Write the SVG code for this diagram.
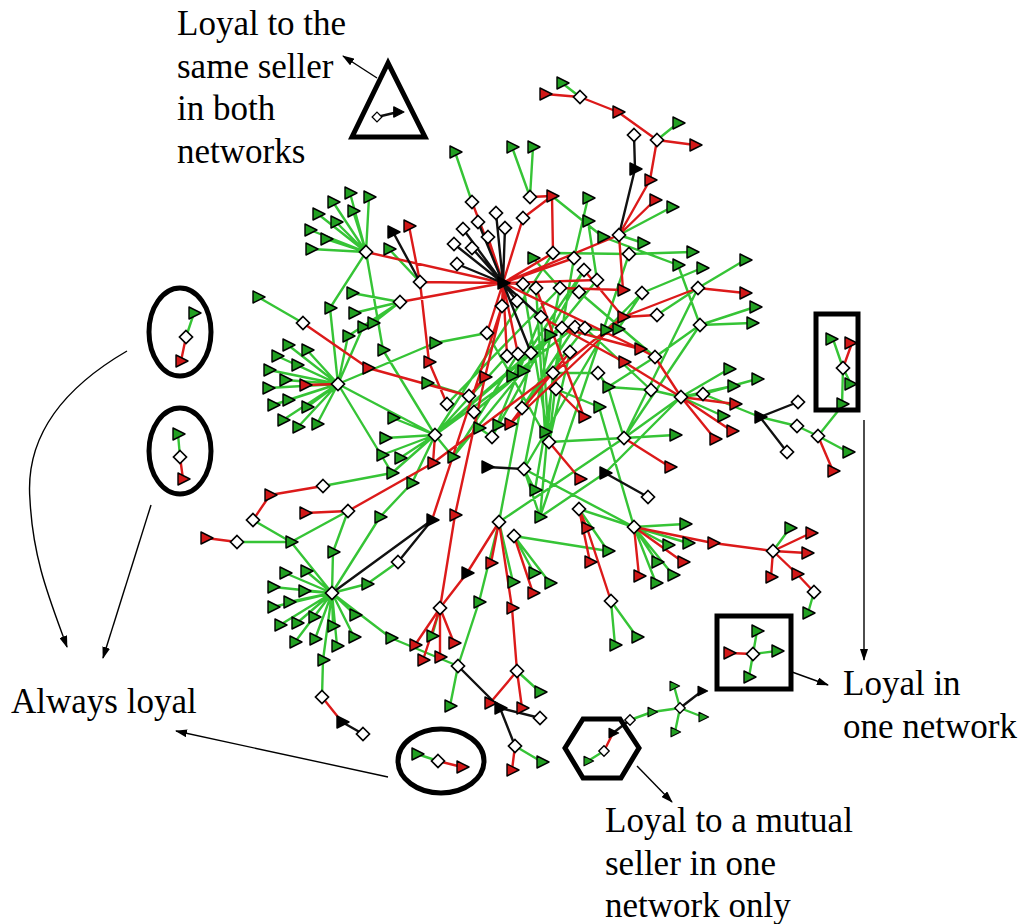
<svg xmlns="http://www.w3.org/2000/svg" xmlns:xlink="http://www.w3.org/1999/xlink" width="1030" height="924" viewBox="0 0 1030 924">
<style>
.eg{fill:none;stroke:#36c436;stroke-width:2.4;stroke-linecap:round}
.er{fill:none;stroke:#dc1a1a;stroke-width:2.4;stroke-linecap:round}
.ek{fill:none;stroke:#111;stroke-width:2.4;stroke-linecap:round}
.t{font-size:35px;fill:#000}
.sh{fill:none;stroke:#000;stroke-width:5}
.an{fill:none;stroke:#000;stroke-width:1.4;marker-end:url(#ah)}
</style>
<defs>
<path id="G" d="M-5,-6L7,0L-5,6Z" fill="#22a022" stroke="#000" stroke-width="1.4" stroke-linejoin="round"/>
<path id="R" d="M-5,-6L7,0L-5,6Z" fill="#d21818" stroke="#000" stroke-width="1.4" stroke-linejoin="round"/>
<path id="K" d="M-5,-6L7,0L-5,6Z" fill="#000" stroke="#000" stroke-width="1.4" stroke-linejoin="round"/>
<path id="D" d="M0,-6.5L6.5,0L0,6.5L-6.5,0Z" fill="#fff" stroke="#000" stroke-width="1.7"/>
<marker id="ah" viewBox="0 0 12 8" refX="11" refY="4" markerWidth="12" markerHeight="8" markerUnits="userSpaceOnUse" orient="auto"><path d="M0,0L12,4L0,8Z" fill="#000"/></marker>
</defs>
<rect width="1030" height="924" fill="#fff"/>
<g id="connectors">
<path class="eg" d="M562,83L580,97M657,140L678,123M619,235L672,207M455,152L472,202M512,147L530,197M533,147L530,197M552,196L603,237M603,237L678,265M588,198L574,258M588,221L597,280M619,235L643,243M629,254L692,252M642,293L702,268M745,260L698,288M678,265L700,325M700,325L755,307M700,325L752,323M700,325L655,357M655,357L608,387M657,315L698,288M642,293L606,330M642,293L618,329M533,258L560,288M553,253L629,254M574,258L535,490M584,270L512,376M597,280L523,371M523,284L549,442M536,288L545,432M560,288L524,469M579,292L655,357M562,328L606,330M585,328L651,390M570,352L549,442M531,353L499,522M518,354L453,457M507,356L435,435M435,435L550,335M435,435L562,328M435,435L523,371M553,373L598,373M556,389L599,407M598,373L608,387M651,390L608,387M651,390L681,397M624,438L681,397M624,438L675,435M605,473L681,397M624,438L499,522M549,442L545,432M549,442L541,317M549,442L562,328M492,437L479,428M492,437L498,425M474,412L478,428M469,396L427,383M522,408L575,327M522,408L585,328M524,469L535,490M524,469L540,517M540,517L553,373M514,536L608,551M579,509L608,551M579,509L634,527M634,527L524,469M634,527L685,524M634,527L688,543M634,527L668,545M634,527L657,562M634,527L656,583M634,527L673,575M611,601L615,645M611,601L637,637M634,527L599,407M624,438L700,325M608,387L624,438M549,442L624,438M605,473L540,517M474,412L523,371M492,437L541,317M487,333L549,442M553,253L435,435M597,280L453,457M629,254L540,517M584,270L492,437M698,288L624,438M606,330L524,469M575,327L512,376M560,288L447,404
M366,252L350,193M366,252L369,197M366,252L333,202M366,252L353,211M366,252L318,214M366,252L336,222M366,252L310,230M366,252L326,239M366,252L311,249M366,252L330,308M366,252L383,350M389,249L420,282M400,302L352,293M400,302L354,313M400,302L363,327M400,302L373,323M400,302L348,336M258,297L303,323M330,308L338,384M348,336L338,384M363,327L338,384M435,343L338,384M435,343L487,333M383,350L435,435M427,383L469,396
M338,384L288,345M338,384L307,350M338,384L277,356M338,384L297,365M338,384L269,370M338,384L285,380M338,384L268,388M338,384L288,400M338,384L273,405M338,384L307,407M338,384L283,420M338,384L298,427M338,384L317,424M338,384L392,473M338,384L435,435
M435,435L393,418M435,435L385,438M435,435L382,455M435,435L400,458M435,435L453,457M323,486L392,473M392,473L435,435M412,483L380,517M380,517L332,593M412,483L435,435M237,542L291,542M253,520L291,542M348,511L291,542M348,511L333,552M291,542L332,593M333,552L332,593M398,562L367,584M367,584L332,593
M332,593L285,573M332,593L306,571M332,593L273,587M332,593L304,591M332,593L273,607M332,593L289,602M332,593L280,625M332,593L297,623M332,593L314,617M332,593L295,642M332,593L315,639M332,593L333,626M332,593L355,615M332,593L354,637M332,593L337,646M332,593L323,660M332,593L391,638M391,638L458,666M323,660L322,697M440,608L432,636M458,666L450,706M458,666L479,602M479,602L499,522M499,522L513,582M517,671L540,692M515,746L542,762M514,536L534,573M514,536L550,583
M703,394L681,397M681,397L729,369M681,397L733,386M703,394L757,379M681,397L723,416M703,394L760,417M760,417L797,426M797,426L818,436M818,436L842,406M818,436L848,452M773,551L790,528M814,592L808,613
M588,761L604,751M630,720L652,712M652,712L680,708M680,708L674,686M680,708L703,717M680,708L675,732M753,654L757,631M753,654L777,651M753,654L749,677M833,339L843,368M843,368L851,384M843,368L842,406M194,313L186,337M178,434L180,457M417,754L438,761"/>
<path class="er" d="M545,94L580,97M580,97L618,112M618,112L657,140M657,140L695,145M657,140L650,180M650,180L619,235M655,200L619,235M472,202L503,283M488,237L503,283M523,218L503,283M530,197L552,196M523,218L552,196M552,196L553,253M503,283L619,235M619,235L623,290M698,288L745,293M698,288L623,317M623,317L657,315M623,317L584,270M623,290L560,288M503,283L597,280M503,283L553,253M503,283L574,258M503,283L366,252M503,283L420,282M503,283L400,302M409,226L420,282M503,283L502,306M503,283L487,333M503,283L507,356M503,283L518,354M503,283L640,349M503,283L523,284M541,317L624,362M624,362L681,397M655,357L681,397M640,349L655,357M502,306L485,377M485,377L469,396M485,377L455,515M420,282L429,362M429,362L447,404M303,323L368,368M368,368L469,396M502,306L432,520M348,511L433,463M433,463L553,373M455,515L440,608M440,608L467,573M467,573L499,522M499,522L491,563M499,522L512,608M512,608L517,671M517,671L490,703M517,671L522,708M515,746L512,770M440,608L415,645M440,608L423,660M440,608L440,657M440,608L454,643M322,697L342,722M348,511L305,513M270,495L253,520M270,495L323,486M206,538L237,542M435,435L433,463M338,384L305,385M562,328L640,349M570,352L510,424M556,389L584,417M553,373L623,317M624,438L670,467M549,442L580,479M579,509L587,528M587,528L611,601M579,509L590,562M681,397L735,404M681,397L732,431M681,397L715,439M818,436L833,471M634,527L713,543M634,527L683,562M634,527L639,576M713,543L773,551M773,551L811,533M773,551L807,553M773,551L771,577M773,551L797,574M797,574L814,592M514,536L533,593M623,317L510,424M536,288L584,417M522,408L510,424
M604,751L613,733M729,653L753,654M852,343L843,368M186,337L181,361M180,457L183,479M438,761L462,767"/>
<path class="ek" d="M634,135L635,169M635,169L619,235M503,283L496,213M503,283L478,222M503,283L505,228M503,283L463,229M503,283L454,244M503,283L472,248M503,283L457,264M503,283L517,301M503,283L541,317M503,283L531,353M393,232L420,282M332,593L432,520M398,562L432,520M487,467L524,469M605,473L648,497M458,666L500,708M500,708L540,718M500,708L515,746M342,722L363,734M760,417L798,402M760,417L787,452M613,733L630,720M680,708L702,691M377,117L398,112"/>
</g>
<g id="nodes">
<g id="n1"><use href="#G" x="562" y="83"/></g>
<g id="n2"><use href="#R" x="545" y="94"/></g>
<g id="n3"><use href="#D" x="580" y="97"/></g>
<g id="n4"><use href="#R" x="618" y="112"/></g>
<g id="n5"><use href="#G" x="678" y="123"/></g>
<g id="n6"><use href="#D" x="657" y="140"/></g>
<g id="n7"><use href="#R" x="695" y="145"/></g>
<g id="n8"><use href="#D" x="634" y="135"/></g>
<g id="n9"><use href="#K" x="635" y="169"/></g>
<g id="n10"><use href="#R" x="650" y="180"/></g>
<g id="n11"><use href="#R" x="655" y="200"/></g>
<g id="n12"><use href="#G" x="672" y="207"/></g>
<g id="n13"><use href="#D" x="619" y="235"/></g>
<g id="n14"><use href="#G" x="455" y="152"/></g>
<g id="n15"><use href="#D" x="472" y="202"/></g>
<g id="n16"><use href="#G" x="512" y="147"/></g>
<g id="n17"><use href="#G" x="533" y="147"/></g>
<g id="n18"><use href="#D" x="530" y="197"/></g>
<g id="n19"><use href="#R" x="552" y="196"/></g>
<g id="n20"><use href="#D" x="523" y="218"/></g>
<g id="n21"><use href="#G" x="588" y="198"/></g>
<g id="n22"><use href="#G" x="588" y="221"/></g>
<g id="n23"><use href="#G" x="603" y="237"/></g>
<g id="n24"><use href="#G" x="643" y="243"/></g>
<g id="n25"><use href="#D" x="629" y="254"/></g>
<g id="n26"><use href="#G" x="692" y="252"/></g>
<g id="n27"><use href="#G" x="678" y="265"/></g>
<g id="n28"><use href="#G" x="702" y="268"/></g>
<g id="n29"><use href="#G" x="745" y="260"/></g>
<g id="n30"><use href="#D" x="698" y="288"/></g>
<g id="n31"><use href="#R" x="745" y="293"/></g>
<g id="n32"><use href="#G" x="755" y="307"/></g>
<g id="n33"><use href="#G" x="752" y="323"/></g>
<g id="n34"><use href="#D" x="700" y="325"/></g>
<g id="n35"><use href="#D" x="642" y="293"/></g>
<g id="n36"><use href="#R" x="623" y="290"/></g>
<g id="n37"><use href="#R" x="623" y="317"/></g>
<g id="n38"><use href="#D" x="657" y="315"/></g>
<g id="n39"><use href="#D" x="496" y="213"/></g>
<g id="n40"><use href="#D" x="478" y="222"/></g>
<g id="n41"><use href="#D" x="505" y="228"/></g>
<g id="n42"><use href="#D" x="463" y="229"/></g>
<g id="n43"><use href="#D" x="488" y="237"/></g>
<g id="n44"><use href="#D" x="454" y="244"/></g>
<g id="n45"><use href="#D" x="472" y="248"/></g>
<g id="n46"><use href="#D" x="457" y="264"/></g>
<g id="n47"><use href="#G" x="533" y="258"/></g>
<g id="n48"><use href="#D" x="553" y="253"/></g>
<g id="n49"><use href="#D" x="574" y="258"/></g>
<g id="n50"><use href="#D" x="584" y="270"/></g>
<g id="n51"><use href="#D" x="597" y="280"/></g>
<g id="n52"><use href="#D" x="523" y="284"/></g>
<g id="n53"><use href="#D" x="536" y="288"/></g>
<g id="n54"><use href="#D" x="560" y="288"/></g>
<g id="n55"><use href="#D" x="579" y="292"/></g>
<g id="n56"><use href="#D" x="517" y="301"/></g>
<g id="n57"><use href="#D" x="502" y="306"/></g>
<g id="n58"><use href="#D" x="541" y="317"/></g>
<g id="n59"><use href="#D" x="562" y="328"/></g>
<g id="n60"><use href="#D" x="575" y="327"/></g>
<g id="n61"><use href="#D" x="585" y="328"/></g>
<g id="n62"><use href="#G" x="550" y="335"/></g>
<g id="n63"><use href="#G" x="606" y="330"/></g>
<g id="n64"><use href="#G" x="618" y="329"/></g>
<g id="n65"><use href="#D" x="487" y="333"/></g>
<g id="n66"><use href="#G" x="435" y="343"/></g>
<g id="n67"><use href="#D" x="507" y="356"/></g>
<g id="n68"><use href="#D" x="518" y="354"/></g>
<g id="n69"><use href="#D" x="531" y="353"/></g>
<g id="n70"><use href="#D" x="570" y="352"/></g>
<g id="n71"><use href="#R" x="640" y="349"/></g>
<g id="n72"><use href="#D" x="655" y="357"/></g>
<g id="n73"><use href="#R" x="485" y="377"/></g>
<g id="n74"><use href="#G" x="512" y="376"/></g>
<g id="n75"><use href="#G" x="523" y="371"/></g>
<g id="n76"><use href="#D" x="553" y="373"/></g>
<g id="n77"><use href="#D" x="598" y="373"/></g>
<g id="n78"><use href="#R" x="624" y="362"/></g>
<g id="n79"><use href="#G" x="608" y="387"/></g>
<g id="n80"><use href="#D" x="556" y="389"/></g>
<g id="n81"><use href="#D" x="651" y="390"/></g>
<g id="n82"><use href="#D" x="469" y="396"/></g>
<g id="n83"><use href="#D" x="447" y="404"/></g>
<g id="n84"><use href="#D" x="474" y="412"/></g>
<g id="n85"><use href="#D" x="522" y="408"/></g>
<g id="n86"><use href="#G" x="599" y="407"/></g>
<g id="n87"><use href="#R" x="584" y="417"/></g>
<g id="n88"><use href="#G" x="479" y="428"/></g>
<g id="n89"><use href="#G" x="498" y="425"/></g>
<g id="n90"><use href="#R" x="510" y="424"/></g>
<g id="n91"><use href="#D" x="492" y="437"/></g>
<g id="n92"><use href="#G" x="545" y="432"/></g>
<g id="n93"><use href="#D" x="549" y="442"/></g>
<g id="n94"><use href="#D" x="624" y="438"/></g>
<g id="n95"><use href="#G" x="675" y="435"/></g>
<g id="n96"><use href="#G" x="453" y="457"/></g>
<g id="n97"><use href="#K" x="487" y="467"/></g>
<g id="n98"><use href="#D" x="524" y="469"/></g>
<g id="n99"><use href="#R" x="670" y="467"/></g>
<g id="n100"><use href="#K" x="605" y="473"/></g>
<g id="n101"><use href="#D" x="648" y="497"/></g>
<g id="n102"><use href="#R" x="580" y="479"/></g>
<g id="n103"><use href="#G" x="535" y="490"/></g>
<g id="n104"><use href="#G" x="540" y="517"/></g>
<g id="n105"><use href="#R" x="455" y="515"/></g>
<g id="n106"><use href="#D" x="579" y="509"/></g>
<g id="n107"><use href="#R" x="587" y="528"/></g>
<g id="n108"><use href="#D" x="499" y="522"/></g>
<g id="n109"><use href="#D" x="514" y="536"/></g>
<g id="n110"><use href="#G" x="608" y="551"/></g>
<g id="n111"><use href="#R" x="590" y="562"/></g>
<g id="n112"><use href="#R" x="491" y="563"/></g>
<g id="n113"><use href="#K" x="467" y="573"/></g>
<g id="n114"><use href="#G" x="534" y="573"/></g>
<g id="n115"><use href="#G" x="550" y="583"/></g>
<g id="n116"><use href="#R" x="533" y="593"/></g>
<g id="n117"><use href="#D" x="611" y="601"/></g>
<g id="n118"><use href="#G" x="615" y="645"/></g>
<g id="n119"><use href="#G" x="637" y="637"/></g>
<g id="n120"><use href="#K" x="503" y="283"/></g>
<g id="n121"><use href="#D" x="681" y="397"/></g>
<g id="n122"><use href="#D" x="703" y="394"/></g>
<g id="n123"><use href="#G" x="729" y="369"/></g>
<g id="n124"><use href="#G" x="733" y="386"/></g>
<g id="n125"><use href="#G" x="757" y="379"/></g>
<g id="n126"><use href="#R" x="735" y="404"/></g>
<g id="n127"><use href="#G" x="723" y="416"/></g>
<g id="n128"><use href="#R" x="732" y="431"/></g>
<g id="n129"><use href="#R" x="715" y="439"/></g>
<g id="n130"><use href="#K" x="760" y="417"/></g>
<g id="n131"><use href="#D" x="798" y="402"/></g>
<g id="n132"><use href="#D" x="797" y="426"/></g>
<g id="n133"><use href="#D" x="787" y="452"/></g>
<g id="n134"><use href="#D" x="818" y="436"/></g>
<g id="n135"><use href="#G" x="848" y="452"/></g>
<g id="n136"><use href="#R" x="833" y="471"/></g>
<g id="n137"><use href="#D" x="634" y="527"/></g>
<g id="n138"><use href="#G" x="685" y="524"/></g>
<g id="n139"><use href="#G" x="688" y="543"/></g>
<g id="n140"><use href="#G" x="668" y="545"/></g>
<g id="n141"><use href="#G" x="657" y="562"/></g>
<g id="n142"><use href="#G" x="656" y="583"/></g>
<g id="n143"><use href="#G" x="673" y="575"/></g>
<g id="n144"><use href="#R" x="713" y="543"/></g>
<g id="n145"><use href="#R" x="683" y="562"/></g>
<g id="n146"><use href="#R" x="639" y="576"/></g>
<g id="n147"><use href="#D" x="773" y="551"/></g>
<g id="n148"><use href="#G" x="790" y="528"/></g>
<g id="n149"><use href="#R" x="811" y="533"/></g>
<g id="n150"><use href="#R" x="807" y="553"/></g>
<g id="n151"><use href="#R" x="771" y="577"/></g>
<g id="n152"><use href="#R" x="797" y="574"/></g>
<g id="n153"><use href="#D" x="814" y="592"/></g>
<g id="n154"><use href="#G" x="808" y="613"/></g>
<g id="n155"><use href="#G" x="350" y="193"/></g>
<g id="n156"><use href="#G" x="369" y="197"/></g>
<g id="n157"><use href="#G" x="333" y="202"/></g>
<g id="n158"><use href="#G" x="353" y="211"/></g>
<g id="n159"><use href="#G" x="318" y="214"/></g>
<g id="n160"><use href="#G" x="336" y="222"/></g>
<g id="n161"><use href="#G" x="310" y="230"/></g>
<g id="n162"><use href="#G" x="326" y="239"/></g>
<g id="n163"><use href="#G" x="311" y="249"/></g>
<g id="n164"><use href="#D" x="366" y="252"/></g>
<g id="n165"><use href="#K" x="393" y="232"/></g>
<g id="n166"><use href="#R" x="409" y="226"/></g>
<g id="n167"><use href="#G" x="389" y="249"/></g>
<g id="n168"><use href="#D" x="420" y="282"/></g>
<g id="n169"><use href="#D" x="400" y="302"/></g>
<g id="n170"><use href="#G" x="352" y="293"/></g>
<g id="n171"><use href="#G" x="354" y="313"/></g>
<g id="n172"><use href="#G" x="363" y="327"/></g>
<g id="n173"><use href="#G" x="373" y="323"/></g>
<g id="n174"><use href="#G" x="348" y="336"/></g>
<g id="n175"><use href="#G" x="330" y="308"/></g>
<g id="n176"><use href="#G" x="258" y="297"/></g>
<g id="n177"><use href="#D" x="303" y="323"/></g>
<g id="n178"><use href="#G" x="383" y="350"/></g>
<g id="n179"><use href="#R" x="368" y="368"/></g>
<g id="n180"><use href="#R" x="429" y="362"/></g>
<g id="n181"><use href="#G" x="427" y="383"/></g>
<g id="n182"><use href="#D" x="338" y="384"/></g>
<g id="n183"><use href="#R" x="305" y="385"/></g>
<g id="n184"><use href="#G" x="288" y="345"/></g>
<g id="n185"><use href="#G" x="307" y="350"/></g>
<g id="n186"><use href="#G" x="277" y="356"/></g>
<g id="n187"><use href="#G" x="297" y="365"/></g>
<g id="n188"><use href="#G" x="269" y="370"/></g>
<g id="n189"><use href="#G" x="285" y="380"/></g>
<g id="n190"><use href="#G" x="268" y="388"/></g>
<g id="n191"><use href="#G" x="288" y="400"/></g>
<g id="n192"><use href="#G" x="273" y="405"/></g>
<g id="n193"><use href="#G" x="307" y="407"/></g>
<g id="n194"><use href="#G" x="283" y="420"/></g>
<g id="n195"><use href="#G" x="298" y="427"/></g>
<g id="n196"><use href="#G" x="317" y="424"/></g>
<g id="n197"><use href="#D" x="435" y="435"/></g>
<g id="n198"><use href="#G" x="393" y="418"/></g>
<g id="n199"><use href="#G" x="385" y="438"/></g>
<g id="n200"><use href="#G" x="382" y="455"/></g>
<g id="n201"><use href="#G" x="400" y="458"/></g>
<g id="n202"><use href="#G" x="392" y="473"/></g>
<g id="n203"><use href="#G" x="412" y="483"/></g>
<g id="n204"><use href="#R" x="433" y="463"/></g>
<g id="n205"><use href="#D" x="323" y="486"/></g>
<g id="n206"><use href="#R" x="270" y="495"/></g>
<g id="n207"><use href="#D" x="253" y="520"/></g>
<g id="n208"><use href="#R" x="305" y="513"/></g>
<g id="n209"><use href="#D" x="348" y="511"/></g>
<g id="n210"><use href="#G" x="380" y="517"/></g>
<g id="n211"><use href="#K" x="432" y="520"/></g>
<g id="n212"><use href="#G" x="291" y="542"/></g>
<g id="n213"><use href="#G" x="333" y="552"/></g>
<g id="n214"><use href="#R" x="206" y="538"/></g>
<g id="n215"><use href="#D" x="237" y="542"/></g>
<g id="n216"><use href="#D" x="398" y="562"/></g>
<g id="n217"><use href="#G" x="367" y="584"/></g>
<g id="n218"><use href="#D" x="332" y="593"/></g>
<g id="n219"><use href="#G" x="285" y="573"/></g>
<g id="n220"><use href="#G" x="306" y="571"/></g>
<g id="n221"><use href="#G" x="273" y="587"/></g>
<g id="n222"><use href="#G" x="304" y="591"/></g>
<g id="n223"><use href="#G" x="273" y="607"/></g>
<g id="n224"><use href="#G" x="289" y="602"/></g>
<g id="n225"><use href="#G" x="280" y="625"/></g>
<g id="n226"><use href="#G" x="297" y="623"/></g>
<g id="n227"><use href="#G" x="314" y="617"/></g>
<g id="n228"><use href="#G" x="295" y="642"/></g>
<g id="n229"><use href="#G" x="315" y="639"/></g>
<g id="n230"><use href="#G" x="333" y="626"/></g>
<g id="n231"><use href="#G" x="355" y="615"/></g>
<g id="n232"><use href="#G" x="354" y="637"/></g>
<g id="n233"><use href="#G" x="337" y="646"/></g>
<g id="n234"><use href="#G" x="323" y="660"/></g>
<g id="n235"><use href="#G" x="391" y="638"/></g>
<g id="n236"><use href="#D" x="440" y="608"/></g>
<g id="n237"><use href="#R" x="415" y="645"/></g>
<g id="n238"><use href="#R" x="423" y="660"/></g>
<g id="n239"><use href="#R" x="440" y="657"/></g>
<g id="n240"><use href="#R" x="454" y="643"/></g>
<g id="n241"><use href="#G" x="432" y="636"/></g>
<g id="n242"><use href="#D" x="458" y="666"/></g>
<g id="n243"><use href="#G" x="479" y="602"/></g>
<g id="n244"><use href="#G" x="513" y="582"/></g>
<g id="n245"><use href="#R" x="512" y="608"/></g>
<g id="n246"><use href="#D" x="517" y="671"/></g>
<g id="n247"><use href="#G" x="450" y="706"/></g>
<g id="n248"><use href="#G" x="540" y="692"/></g>
<g id="n249"><use href="#R" x="490" y="703"/></g>
<g id="n250"><use href="#K" x="500" y="708"/></g>
<g id="n251"><use href="#R" x="522" y="708"/></g>
<g id="n252"><use href="#D" x="540" y="718"/></g>
<g id="n253"><use href="#D" x="515" y="746"/></g>
<g id="n254"><use href="#G" x="542" y="762"/></g>
<g id="n255"><use href="#R" x="512" y="770"/></g>
<g id="n256"><use href="#D" x="322" y="697"/></g>
<g id="n257"><use href="#K" x="342" y="722"/></g>
<g id="n258"><use href="#D" x="363" y="734"/></g>
<g id="n259"><use href="#G" transform="translate(588,761) scale(0.8)"/></g>
<g id="n260"><use href="#D" transform="translate(604,751) scale(0.8)"/></g>
<g id="n261"><use href="#K" transform="translate(613,733) scale(0.8)"/></g>
<g id="n262"><use href="#D" transform="translate(630,720) scale(0.8)"/></g>
<g id="n263"><use href="#G" transform="translate(652,712) scale(0.8)"/></g>
<g id="n264"><use href="#D" transform="translate(680,708) scale(0.8)"/></g>
<g id="n265"><use href="#G" transform="translate(674,686) scale(0.8)"/></g>
<g id="n266"><use href="#G" transform="translate(703,717) scale(0.8)"/></g>
<g id="n267"><use href="#G" transform="translate(675,732) scale(0.8)"/></g>
<g id="n268"><use href="#K" transform="translate(702,691) scale(0.8)"/></g>
<g id="n269"><use href="#R" x="729" y="653"/></g>
<g id="n270"><use href="#D" x="753" y="654"/></g>
<g id="n271"><use href="#G" x="757" y="631"/></g>
<g id="n272"><use href="#G" x="777" y="651"/></g>
<g id="n273"><use href="#G" x="749" y="677"/></g>
<g id="n274"><use href="#G" x="831" y="339"/></g>
<g id="n275"><use href="#R" x="850" y="343"/></g>
<g id="n276"><use href="#D" x="843" y="368"/></g>
<g id="n277"><use href="#G" x="850" y="384"/></g>
<g id="n278"><use href="#G" x="842" y="404"/></g>
<g id="n279"><use href="#G" x="194" y="313"/></g>
<g id="n280"><use href="#D" x="186" y="337"/></g>
<g id="n281"><use href="#R" x="181" y="361"/></g>
<g id="n282"><use href="#G" x="178" y="434"/></g>
<g id="n283"><use href="#D" x="180" y="457"/></g>
<g id="n284"><use href="#R" x="183" y="479"/></g>
<g id="n285"><use href="#G" x="417" y="754"/></g>
<g id="n286"><use href="#D" x="438" y="761"/></g>
<g id="n287"><use href="#R" x="462" y="767"/></g>
<g id="n288"><use href="#D" transform="translate(377,117) scale(0.75)"/></g>
<g id="n289"><use href="#K" transform="translate(398,112) scale(0.85)"/></g>
</g>
<g id="annotations">
<polygon class="sh" points="388,63 352,137 425,137"/>
<ellipse class="sh" cx="180" cy="332" rx="31" ry="44"/>
<ellipse class="sh" cx="180" cy="451" rx="31" ry="43"/>
<ellipse class="sh" cx="441" cy="761" rx="43" ry="32"/>
<rect class="sh" x="717" y="616" width="74" height="73"/>
<rect class="sh" x="816" y="314" width="42" height="96"/>
<polygon class="sh" points="565,748 583,719 620,719 639,748 621,778 583,778"/>
<path class="an" d="M377,78L343,56"/>
<path class="an" d="M127,351C60,390 25,440 30,500C33,560 50,600 67,647"/>
<path class="an" d="M151,505L103,658"/>
<path class="an" d="M388,777L176,731"/>
<path class="an" d="M792,672L828,685"/>
<path class="an" d="M637,766L672,802"/>
<path class="an" d="M864,420L864,660"/>
<g font-family="'Liberation Serif', 'DejaVu Serif', serif">
<text class="t" x="177" y="35">Loyal to the</text>
<text class="t" x="177" y="78">same seller</text>
<text class="t" x="177" y="120">in both</text>
<text class="t" x="177" y="163">networks</text>
<text class="t" x="11" y="713">Always loyal</text>
<text class="t" x="843" y="695">Loyal in</text>
<text class="t" x="843" y="738">one network</text>
<text class="t" x="605" y="832">Loyal to a mutual</text>
<text class="t" x="605" y="875">seller in one</text>
<text class="t" x="605" y="917">network only</text>
</g>
</g>
</svg>
